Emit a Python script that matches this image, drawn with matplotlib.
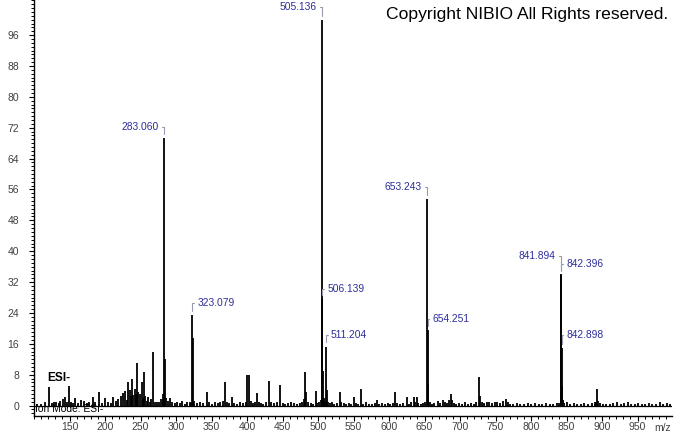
import numpy as np
import matplotlib
matplotlib.use("Agg")
import matplotlib.pyplot as plt
from matplotlib.ticker import MultipleLocator

plt.rcParams['font.family'] = ['Liberation Sans', 'DejaVu Sans']

# spectrum peaks (m/z, relative intensity)
mz = [104, 110, 115, 121.5, 125, 128, 131, 135, 137, 141, 144, 146, 149.7, 152,
      155, 158, 162, 166, 170, 174, 178, 183, 186, 192, 196, 200, 204, 208,
      211.7, 215, 219, 222, 225, 228, 230.5, 232.8, 235, 236.5, 238.5, 240,
      242, 243.5, 245.5, 247, 249, 251.7, 253, 254.9, 257, 259, 261, 263, 265,
      268, 270, 273, 276, 279, 281, 282, 283.06, 285, 286, 289, 292, 295, 298,
      302, 305, 308, 312, 316, 319, 321, 323.079, 324.08, 326, 330, 334, 338,
      343.2, 347, 351, 355, 359, 362, 366, 369.5, 372, 375, 378.4, 382, 386,
      390, 394, 398, 400.5, 402.8, 405, 408, 411, 413.6, 417, 420, 423, 427,
      431.5, 434, 438, 442, 447, 450, 454, 458, 462, 466, 470, 474, 478, 480,
      482.2, 483.5, 486, 490, 493, 496.5, 499, 502, 504, 505.136, 506.139,
      507.1, 508, 510, 511.204, 512.2, 514, 517, 520, 523, 527, 531.4, 533,
      536, 540, 543, 546, 550.3, 553, 556, 560.1, 563, 567, 572, 576, 580,
      582.7, 586, 590, 594, 598, 602, 605, 608.5, 611, 615, 620, 625, 628,
      631, 634.8, 636, 639, 641, 645, 648, 651, 653.243, 654.251, 655.2, 657,
      660, 664, 668.6, 672, 676.5, 679, 682, 684.5, 686.9, 689, 692, 695, 699,
      703, 707, 711, 716, 720, 723, 727.2, 728.2, 731, 734, 738, 741, 745,
      749, 752, 756, 760, 764.4, 767, 770, 775, 780, 785, 790, 795, 800, 806,
      811, 816, 821, 826, 831, 836, 840, 841.894, 842.396, 842.898, 843.4,
      844.4, 847, 851, 855, 860, 865, 870, 875, 880, 886, 890, 892, 893.4,
      894.4, 897, 901, 906, 911, 916, 921, 926, 931, 936, 941, 946, 951, 956,
      961, 966, 971, 976, 981, 986, 991, 995]
intensity = [0.5, 0.4, 0.8, 4.8, 0.6, 0.8, 1.0, 0.7, 1.2, 1.6, 2.3, 0.8, 5.1,
             1.0, 0.6, 1.9, 0.7, 1.5, 1.1, 0.6, 0.9, 2.3, 0.8, 3.4, 0.7, 1.9,
             1.0, 0.6, 2.3, 1.2, 1.6, 2.6, 3.3, 3.8, 1.5, 6.0, 4.1, 2.5, 6.9,
             2.8, 4.2, 3.0, 11.1, 3.5, 2.9, 6.2, 2.0, 8.8, 2.5, 1.2, 2.2, 0.8,
             1.6, 14.0, 0.8, 1.0, 1.0, 1.8, 2.9, 1.5, 69.3, 12.0, 2.0, 1.2, 1.9,
             0.9, 0.7, 1.0, 0.6, 1.1, 0.5, 0.8, 1.0, 0.7, 23.5, 17.5, 1.2, 0.6,
             0.8, 0.6, 3.6, 0.8, 0.5, 1.0, 0.7, 0.8, 1.1, 6.0, 0.9, 0.6, 2.3,
             0.7, 0.5, 0.8, 0.6, 0.8, 8.0, 7.8, 1.2, 0.6, 0.9, 3.2, 0.8, 0.6,
             0.5, 0.9, 6.4, 0.8, 0.6, 0.9, 5.4, 0.7, 0.5, 0.7, 0.9, 0.6, 0.5,
             0.6, 1.0, 1.8, 8.7, 3.6, 1.0, 0.6, 0.5, 3.8, 0.6, 0.8, 1.5, 100.0,
             27.5, 9.0, 2.0, 1.2, 15.3, 4.0, 1.0, 0.6, 0.8, 0.5, 0.7, 3.4, 1.0,
             0.7, 0.5, 0.6, 0.4, 2.3, 0.6, 0.5, 4.3, 0.5, 0.8, 0.5, 0.4, 0.7,
             1.5, 0.5, 0.6, 0.4, 0.7, 0.5, 0.6, 3.4, 0.6, 0.5, 0.6, 2.3, 0.5,
             0.8, 2.1, 0.8, 2.3, 0.6, 0.5, 0.7, 0.8, 53.5, 19.6, 5.5, 0.8, 0.5,
             0.6, 1.3, 0.7, 1.5, 0.8, 0.6, 1.5, 3.0, 1.4, 0.7, 0.5, 0.6, 0.5,
             0.8, 0.5, 0.6, 0.5, 0.9, 7.4, 2.4, 0.8, 0.6, 0.8, 1.0, 0.6, 0.8,
             1.0, 0.7, 1.2, 1.7, 0.9, 0.5, 0.4, 0.6, 0.5, 0.5, 0.6, 0.5, 0.7,
             0.5, 0.4, 0.6, 0.5, 0.4, 0.6, 0.7, 33.8, 34.1, 15.0, 5.0, 1.5, 0.6,
             0.8, 0.5, 0.7, 0.4, 0.5, 0.6, 0.4, 0.6, 1.0, 0.8, 4.3, 1.2, 0.6,
             0.4, 0.5, 0.4, 0.7, 1.0, 0.4, 0.6, 0.8, 0.5, 0.4, 0.7, 0.5, 0.4,
             0.6, 0.5, 0.4, 0.8, 0.5, 0.7, 0.4]

# labelled peaks
label_mz = [283.060, 505.136, 653.243, 841.894, 323.079, 506.139, 511.204,
            654.251, 842.396, 842.898]
label_text = ["283.060", "505.136", "653.243", "841.894", "323.079", "506.139",
              "511.204", "654.251", "842.396", "842.898"]
# label placement: (side, dy in points above the peak top)
label_pos = [(-1, 8.0), (-1, 9.2), (-1, 9.0), (-1, 14.0), (1, 8.6), (1, 7.5),
             (1, 8.4), (1, 8.0), (1, 7.0), (1, 9.3)]

xticks = np.arange(150, 951, 50)
yticks = np.arange(0, 97, 8)

fig = plt.figure(figsize=(6.74, 4.34), dpi=100)
ax = fig.add_axes([34 / 674, 18 / 434, 638 / 674, 416 / 434])

ax.vlines(mz, 0, intensity, color="black", lw=1.3)
ax.axhline(0, color="black", lw=0.9)

lookup = dict(zip(mz, intensity))
for m, t, (side, dy) in zip(label_mz, label_text, label_pos):
    h = lookup[m]
    ax.annotate(t, xy=(m, h), xytext=(3.6 * side, dy), textcoords="offset points",
                ha="right" if side < 0 else "left", va="center",
                fontsize=7.4, color="#2d2d9c", annotation_clip=False,
                arrowprops=dict(arrowstyle="-", color="#9a9ab0", lw=0.8,
                                shrinkA=0.5, shrinkB=3,
                                connectionstyle="angle,angleA=0,angleB=90,rad=0"))

ax.set_xlim(100, 998.5)
ax.set_ylim(-2.7, 105.1)
ax.set_xticks(xticks)
ax.set_yticks(yticks)
ax.xaxis.set_minor_locator(MultipleLocator(10))
ax.yaxis.set_minor_locator(MultipleLocator(1))
ax.tick_params(axis="both", which="major", length=3.6, width=0.8, labelsize=7.5,
               labelcolor="#404040")
ax.tick_params(axis="both", which="minor", length=2.2, width=0.7)
ax.tick_params(axis="y", pad=7)
ax.tick_params(axis="x", pad=0.8)

for s in ["top", "right"]:
    ax.spines[s].set_visible(False)
ax.spines["left"].set_linewidth(1.0)
ax.spines["bottom"].set_linewidth(1.0)

ax.text(0.999, -0.0295, "m/z", transform=ax.transAxes, ha="right", va="center",
        fontsize=7.5, color="#404040")
ax.text(102, -0.9, "Ion Mode: ESI-", ha="left", va="center",
        fontsize=7.4, color="black")
ax.text(0.02, 0.092, "ESI-", transform=ax.transAxes, ha="left", va="center",
        fontsize=8.6, fontweight="bold", color="black")
fig.text(668 / 674, 1 - 14 / 434, "Copyright NIBIO All Rights reserved.",
         ha="right", va="center", fontsize=12.6, color="black")

fig.savefig("out.png", dpi=100)
